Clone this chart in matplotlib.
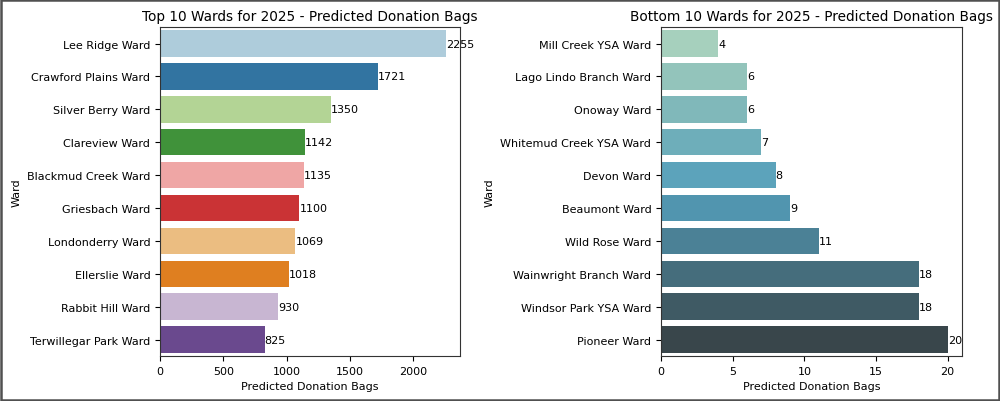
import matplotlib
matplotlib.use("Agg")
import matplotlib.pyplot as plt
import matplotlib.patches as patches
from matplotlib.ticker import MultipleLocator
import pandas as pd
import seaborn as sns

# top 10 wards
top_wards = ["Lee Ridge Ward", "Crawford Plains Ward", "Silver Berry Ward", "Clareview Ward",
             "Blackmud Creek Ward", "Griesbach Ward", "Londonderry Ward", "Ellerslie Ward",
             "Rabbit Hill Ward", "Terwillegar Park Ward"]
top_bags = [2255, 1721, 1350, 1142, 1135, 1100, 1069, 1018, 930, 825]

# bottom 10 wards
bottom_wards = ["Mill Creek YSA Ward", "Lago Lindo Branch Ward", "Onoway Ward",
                "Whitemud Creek YSA Ward", "Devon Ward", "Beaumont Ward", "Wild Rose Ward",
                "Wainwright Branch Ward", "Windsor Park YSA Ward", "Pioneer Ward"]
bottom_bags = [4, 6, 6, 7, 8, 9, 11, 18, 18, 20]

df_top = pd.DataFrame({"Ward": top_wards, "Predicted Donation Bags": top_bags})
df_bot = pd.DataFrame({"Ward": bottom_wards, "Predicted Donation Bags": bottom_bags})

plt.rcParams["font.size"] = 8
plt.rcParams["axes.edgecolor"] = "#333333"

fig = plt.figure(figsize=(10, 4.02), dpi=100)
ax1 = fig.add_axes([0.160, 0.112, 0.300, 0.818])
ax2 = fig.add_axes([0.661, 0.112, 0.301, 0.818])

sns.barplot(data=df_top, y="Ward", x="Predicted Donation Bags", hue="Ward",
            palette="Paired", legend=False, ax=ax1)
sns.barplot(data=df_bot, y="Ward", x="Predicted Donation Bags", hue="Ward",
            palette="GnBu_d", legend=False, ax=ax2)

for ax in (ax1, ax2):
    for c in ax.containers:
        ax.bar_label(c, fontsize=8)
    ax.tick_params(labelsize=8)
    ax.set_xlabel("Predicted Donation Bags", fontsize=8)
    ax.set_ylabel("Ward", fontsize=8)

ax2.xaxis.set_major_locator(MultipleLocator(5))

ax1.set_title("Top 10 Wards for 2025 - Predicted Donation Bags", fontsize=9.8, pad=5)
ax2.set_title("Bottom 10 Wards for 2025 - Predicted Donation Bags", fontsize=9.8, pad=5)

# frame around the screenshot
fig.patches.append(patches.Rectangle((0.001, 0.002), 0.998, 0.996, transform=fig.transFigure,
                                     fill=False, edgecolor="#505050", linewidth=1.8))

fig.savefig("out.png", dpi=100)
